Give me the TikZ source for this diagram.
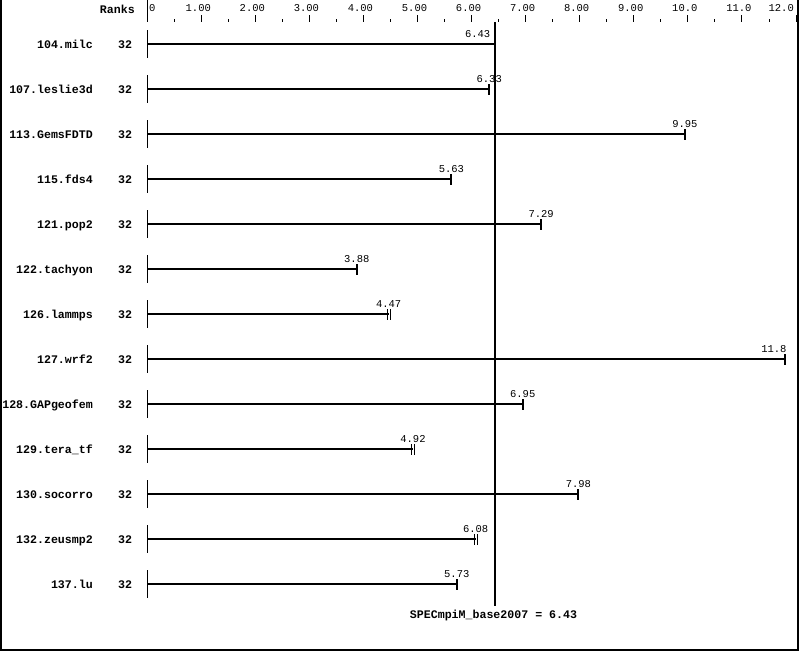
\documentclass[tikz,border=0pt]{standalone}
\usepackage{fontspec}
\usepackage{tikz}
\setmonofont{Liberation Mono}
\newcommand{\vx}[1]{147+54.06*#1}
\tikzset{bench/.style={anchor=base east,inner sep=0pt,font=\ttfamily\bfseries\fontsize{11.6}{12}\selectfont},
 ranks/.style={anchor=base,inner sep=0pt,font=\ttfamily\bfseries\fontsize{11.6}{12}\selectfont},
 val/.style={anchor=base,inner sep=0pt,font=\ttfamily\fontsize{10.5}{12}\selectfont},
 scalelab/.style={anchor=base east,inner sep=0pt,font=\ttfamily\fontsize{10.5}{12}\selectfont},
 bar/.style={line width=2pt},
 onetick/.style={line width=2pt},
 twotick/.style={line width=1pt},
 }

\begin{document}
\begin{tikzpicture}[x=1pt,y=-1pt]
        \useasboundingbox (0,0) rectangle (799,651);
        \draw [line width=2pt] (1,0) -- (1,650) -- (798,650) -- (798,0);
        \node [ranks, anchor=base east] (rankhead) at (135,13.5) {Ranks};
        \draw (147.5,0) -- (147.5,22);
        \foreach \i in {1,...,12}
            \draw ({\vx{\i}},15) -- ({\vx{\i}},22);
        \foreach \i in {0,...,11}
            \draw ({\vx{(\i+0.5)}},19) -- ({\vx{(\i+0.5)}},22);
        \node [scalelab, anchor=base west] (s0) at (149,11) {0};
        \foreach \i/\t in {1/1.00,2/2.00,3/3.00,4/4.00,5/5.00,6/6.00,7/7.00,8/8.00,9/9.00,10/10.0,11/11.0}
            \node [scalelab] (s\i) at ({\vx{\i}+10},11) {\t};
        \node [scalelab] (s12) at (794,11) {12.0};
        \foreach \bench/\v/\tk/\gap/\dx [count=\k] in {
            104.milc/6.43/onetick/0/-17, 107.leslie3d/6.33/onetick/0/0,
            113.GemsFDTD/9.95/onetick/0/0, 115.fds4/5.63/onetick/0/0,
            121.pop2/7.29/onetick/0/0, 122.tachyon/3.88/onetick/0/0,
            126.lammps/4.47/twotick/1.4/0, 127.wrf2/11.8/onetick/0/-11,
            128.GAPgeofem/6.95/onetick/0/0, 129.tera\_tf/4.92/twotick/1.4/0,
            130.socorro/7.98/onetick/0/0, 132.zeusmp2/6.08/twotick/1.4/0,
            137.lu/5.73/onetick/0/0}
        {
            \pgfmathsetmacro\ry{44+45*(\k-1)}
            \node [bench] (b\k) at (93,\ry+4) {\bench};
            \node [ranks] (r\k) at (125,\ry+4) {32};
            \draw (147.5,\ry-14) -- (147.5,\ry+14);
            \draw [bar] (147,\ry) -- ({\vx{\v}},\ry);
            \draw [\tk] ({\vx{\v}-\gap},\ry-5) -- ++(0,11)
                        ({\vx{\v}+\gap},\ry-5) -- ++(0,11);
            \node [val] (v\k) at ({\vx{\v}+\dx},\ry-7) {\v};
        }
        \draw [line width=2pt] ({\vx{6.43}},22) -- ({\vx{6.43}},606);
        \node [ranks] (spec) at (493.5,618) {SPECmpiM\_base2007 = 6.43};
\end{tikzpicture}
\end{document}
